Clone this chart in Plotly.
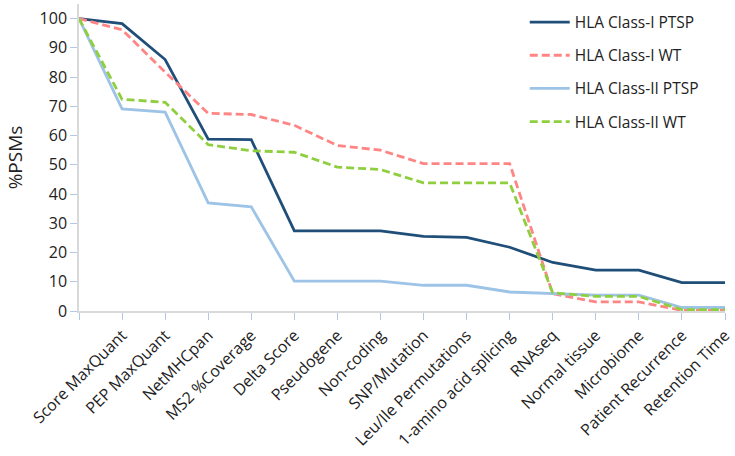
import plotly.graph_objects as go

categories = ["", "Score MaxQuant", "PEP MaxQuant", "NetMHCpan", "MS2 %Coverage", "Delta Score",
              "Pseudogene", "Non-coding", "SNP/Mutation", "Leu/Ile Permutations",
              "1-amino acid splicing", "RNAseq", "Normal tissue", "Microbiome",
              "Patient Recurrence", "Retention Time"]

class1_ptsp = [100, 98.3, 86.0, 58.8, 58.6, 27.4, 27.4, 27.4, 25.5, 25.2, 21.8, 16.6, 14.0, 14.0, 9.7, 9.7]
class1_wt   = [100, 96.2, 81.7, 67.6, 67.2, 63.5, 56.6, 55.0, 50.4, 50.4, 50.4, 5.9, 3.1, 3.1, 0.2, 0.2]
class2_ptsp = [100, 69.1, 68.0, 37.0, 35.6, 10.2, 10.2, 10.2, 8.8, 8.8, 6.5, 5.9, 5.4, 5.4, 1.2, 1.2]
class2_wt   = [100, 72.4, 71.4, 56.9, 54.8, 54.3, 49.2, 48.4, 43.8, 43.8, 43.8, 6.2, 5.0, 5.0, 0.5, 0.5]

series = [
    ("HLA Class-I PTSP", class1_ptsp, "#1f4e79", "solid"),
    ("HLA Class-I WT", class1_wt, "#ff8585", "8px,4px"),
    ("HLA Class-II PTSP", class2_ptsp, "#9dc3e6", "solid"),
    ("HLA Class-II WT", class2_wt, "#8fcf3f", "8px,4px"),
]

xs = list(range(len(categories)))
fig = go.Figure()
for i, (name, vals, color, dash) in enumerate(series):
    fig.add_trace(go.Scatter(
        x=xs, y=vals, name=name, mode="lines", legendgroup=f"g{i}",
        line=dict(color=color, width=2.8, dash=dash), cliponaxis=False,
    ))

font = "Open Sans, DejaVu Sans, sans-serif"
fig.update_layout(
    width=735, height=456,
    margin=dict(l=79, r=10, t=4, b=145, autoexpand=False),
    paper_bgcolor="white", plot_bgcolor="white",
    font=dict(family=font, size=16, color="#222222"),
    legend=dict(x=0.69, y=0.995, xanchor="left", yanchor="top",
                font=dict(size=15.5, color="#222222"), tracegroupgap=10,
                bgcolor="rgba(255,255,255,0)", itemwidth=40),
    showlegend=True,
)
fig.update_xaxes(
    range=[0, 15], tickmode="array", tickvals=xs, ticktext=categories,
    tickangle=-45, showgrid=False, zeroline=False, automargin=False,
    showline=True, linecolor="#d9d9d9", linewidth=1.5,
    ticks="outside", ticklen=7, tickcolor="#b4c7e7",
    tickfont=dict(size=16, family=font, color="#222222"),
)
fig.update_yaxes(
    range=[0, 105], tickvals=[0, 10, 20, 30, 40, 50, 60, 70, 80, 90, 100],
    showgrid=False, zeroline=False, automargin=False,
    showline=True, linecolor="#d9d9d9", linewidth=1.5,
    ticks="outside", ticklen=7, tickcolor="#b4c7e7",
    tickfont=dict(size=16, family=font, color="#222222"),
    title=dict(text="%PSMs", font=dict(size=19, family=font, color="#222222"), standoff=12),
)

fig.write_html("out.html", config={"displayModeBar": False},
               post_script="document.body.style.margin='0';document.body.style.overflow='hidden';")
